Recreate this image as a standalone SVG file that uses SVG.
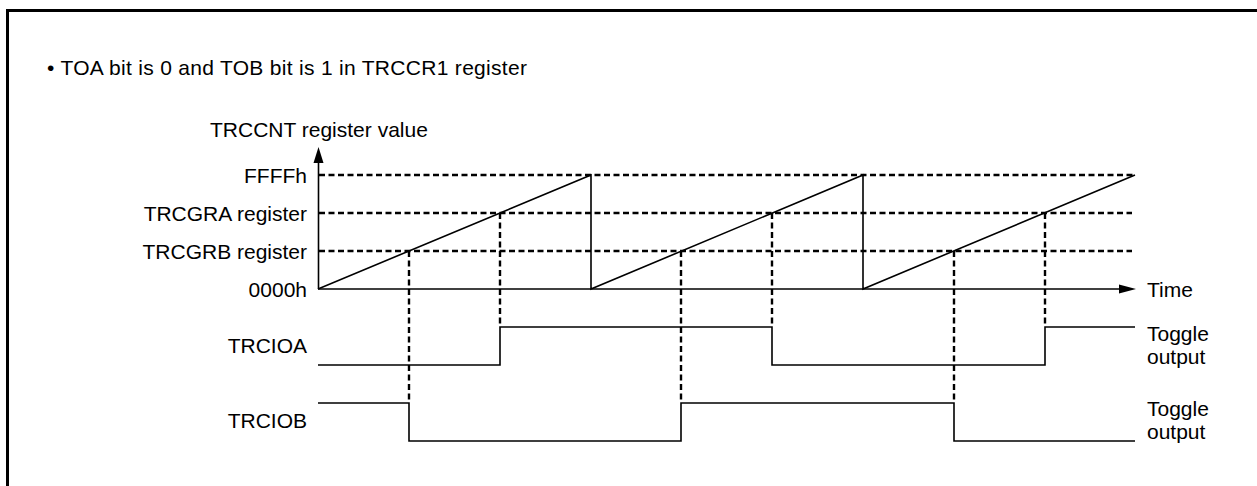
<svg xmlns="http://www.w3.org/2000/svg" width="1257" height="486" viewBox="0 0 1257 486">
<defs>
<style>
text{font-family:"Liberation Sans",Arial,sans-serif;font-size:21px;fill:#000}
.lbl{text-anchor:end}
.hdr{letter-spacing:0.3px}
.solid{fill:none;stroke:#000;stroke-width:1.6}
.dash{fill:none;stroke:#000;stroke-width:2.4;stroke-dasharray:6 3.5}
.frame{fill:none;stroke:#000;stroke-width:3}
</style>
</defs>
<rect width="1257" height="486" fill="#fff"/>
<path class="frame" d="M7.5,490 V10.5 H1260"/>
<g id="title">
<text class="hdr" x="47" y="75">• TOA bit is 0 and TOB bit is 1 in TRCCR1 register</text>
</g>
<g id="axes">
<text x="210" y="137">TRCCNT register value</text>
<path class="solid" d="M318.5,289 V162"/>
<polygon points="318.5,147 313.5,163 323.5,163"/>
<path class="solid" d="M318,289 H1121"/>
<polygon points="1136,289 1119,284.5 1119,293.5"/>
<text x="1147" y="296.5">Time</text>
</g>
<g id="levels">
<text class="lbl" x="307" y="182.5">FFFFh</text>
<text class="lbl" x="307" y="221">TRCGRA register</text>
<text class="lbl" x="307" y="259">TRCGRB register</text>
<text class="lbl" x="307" y="296.5">0000h</text>
<path class="dash" d="M319,175 H1135 M319,213 H1132 M319,251 H1132"/>
</g>
<g id="counter">
<polyline class="solid" points="318,289 591,175 591,289 863,175 863,289 1135,175"/>
</g>
<g id="connectors">
<path class="dash" d="M409,251 V401 M681,251 V401 M954,251 V401 M500,213 V327 M772,213 V327 M1045,213 V327"/>
</g>
<g id="trcioa">
<text class="lbl" x="307" y="353">TRCIOA</text>
<polyline class="solid" points="318,365 500,365 500,327 772,327 772,365 1045,365 1045,327 1135,327"/>
<text x="1147" y="340.5">Toggle</text>
<text x="1147" y="364">output</text>
</g>
<g id="trciob">
<text class="lbl" x="307" y="428">TRCIOB</text>
<polyline class="solid" points="318,403 409,403 409,441 681,441 681,403 954,403 954,441 1135,441"/>
<text x="1147" y="415.5">Toggle</text>
<text x="1147" y="439">output</text>
</g>
</svg>
